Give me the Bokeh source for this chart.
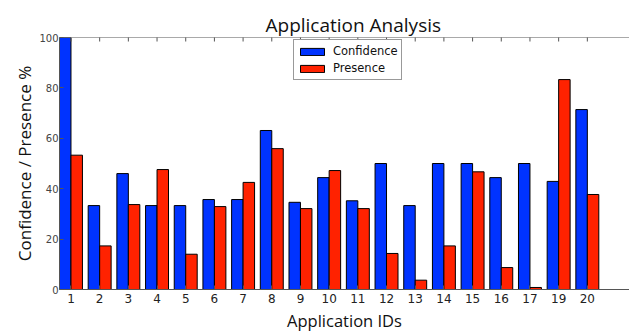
import math
from bokeh.plotting import figure
from bokeh.models import ColumnDataSource, FixedTicker, Range1d, Span
from bokeh.transform import dodge
from bokeh.embed import file_html
from bokeh.resources import INLINE

app_ids = ["1", "2", "3", "4", "5", "6", "7", "8", "9", "10",
           "11", "12", "13", "14", "15", "16", "17", "19", "20"]
confidence = [100.0, 33.3, 46.0, 33.3, 33.3, 35.7, 35.7, 63.1, 34.6, 44.4,
              35.2, 50.0, 33.3, 50.0, 50.0, 44.4, 50.0, 42.9, 71.4]
presence = [53.3, 17.3, 33.7, 47.6, 14.0, 32.9, 42.5, 55.9, 32.1, 47.2,
            32.1, 14.3, 3.7, 17.3, 46.7, 8.7, 0.8, 83.3, 37.7]
y_ticks = [0, 20, 40, 60, 80, 100]
y_max = 100

idx = list(range(len(app_ids)))
source = ColumnDataSource(dict(x=idx, conf=confidence, pres=presence,
                               top=[y_max] * len(idx)))

p = figure(width=629, height=335,
           x_range=Range1d(-0.4, 19.47), y_range=Range1d(0, y_max),
           output_backend="svg", toolbar_location=None,
           min_border_left=59, min_border_right=0,
           min_border_top=37, min_border_bottom=46)

BLUE = "#0033ff"
RED = "#ff2200"
AX = "#555555"

p.vbar(x=dodge("x", -0.2, range=p.x_range), top="conf", width=0.4, source=source,
       fill_color=BLUE, line_color="black", line_width=1, legend_label="Confidence")
p.vbar(x=dodge("x", 0.2, range=p.x_range), top="pres", width=0.4, source=source,
       fill_color=RED, line_color="black", line_width=1, legend_label="Presence")

# matplotlib-style top spine with inward ticks
p.add_layout(Span(location=y_max, dimension="width", line_color=AX, line_width=1))
p.scatter(x="x", y="top", source=source, marker="dash", angle=math.pi / 2,
          size=8, line_color=AX, line_width=1)

p.outline_line_color = None
p.grid.visible = False

xa = p.xaxis[0]
xa.ticker = FixedTicker(ticks=idx)
xa.major_label_overrides = {i: s for i, s in enumerate(app_ids)}
xa.major_label_text_font = "DejaVu Sans"
xa.major_label_text_font_size = "12px"
xa.major_label_text_color = "#222222"
xa.major_label_standoff = 4
xa.major_tick_in = 4
xa.major_tick_out = 0
xa.minor_tick_line_color = None
xa.axis_line_color = AX
xa.major_tick_line_color = AX
xa.axis_label = "Application IDs"
xa.axis_label_text_font = "Open Sans"
xa.axis_label_text_font_size = "16.5px"
xa.axis_label_text_font_style = "normal"
xa.axis_label_text_color = "#111111"
xa.axis_label_standoff = 3

ya = p.yaxis[0]
ya.ticker = FixedTicker(ticks=y_ticks)
ya.major_label_text_font = "DejaVu Sans"
ya.major_label_text_font_size = "10px"
ya.major_label_text_color = "#444444"
ya.major_label_standoff = 1
ya.major_tick_in = 4
ya.major_tick_out = 0
ya.minor_tick_line_color = None
ya.axis_line_color = AX
ya.major_tick_line_color = AX
ya.axis_label = "Confidence / Presence %"
ya.axis_label_text_font = "Open Sans"
ya.axis_label_text_font_size = "17px"
ya.axis_label_text_font_style = "normal"
ya.axis_label_text_color = "#111111"
ya.axis_label_standoff = 0

p.title.text = "Application Analysis"
p.title.text_font = "Open Sans"
p.title.text_font_size = "19px"
p.title.text_font_style = "normal"
p.title.text_color = "#111111"
p.title.align = "left"
p.title.offset = 206
p.title.standoff = 0

lg = p.legend[0]
lg.location = (234, 209)
lg.margin = 0
lg.padding = 3
lg.spacing = 1
lg.glyph_width = 30
lg.glyph_height = 9
lg.label_height = 16
lg.label_standoff = 6
lg.label_text_font = "DejaVu Sans"
lg.label_text_font_size = "11.5px"
lg.label_text_color = "#111111"
lg.border_line_color = "#333333"
lg.border_line_width = 1
lg.background_fill_alpha = 1.0

open("out.html", "w").write(file_html(p, INLINE))
